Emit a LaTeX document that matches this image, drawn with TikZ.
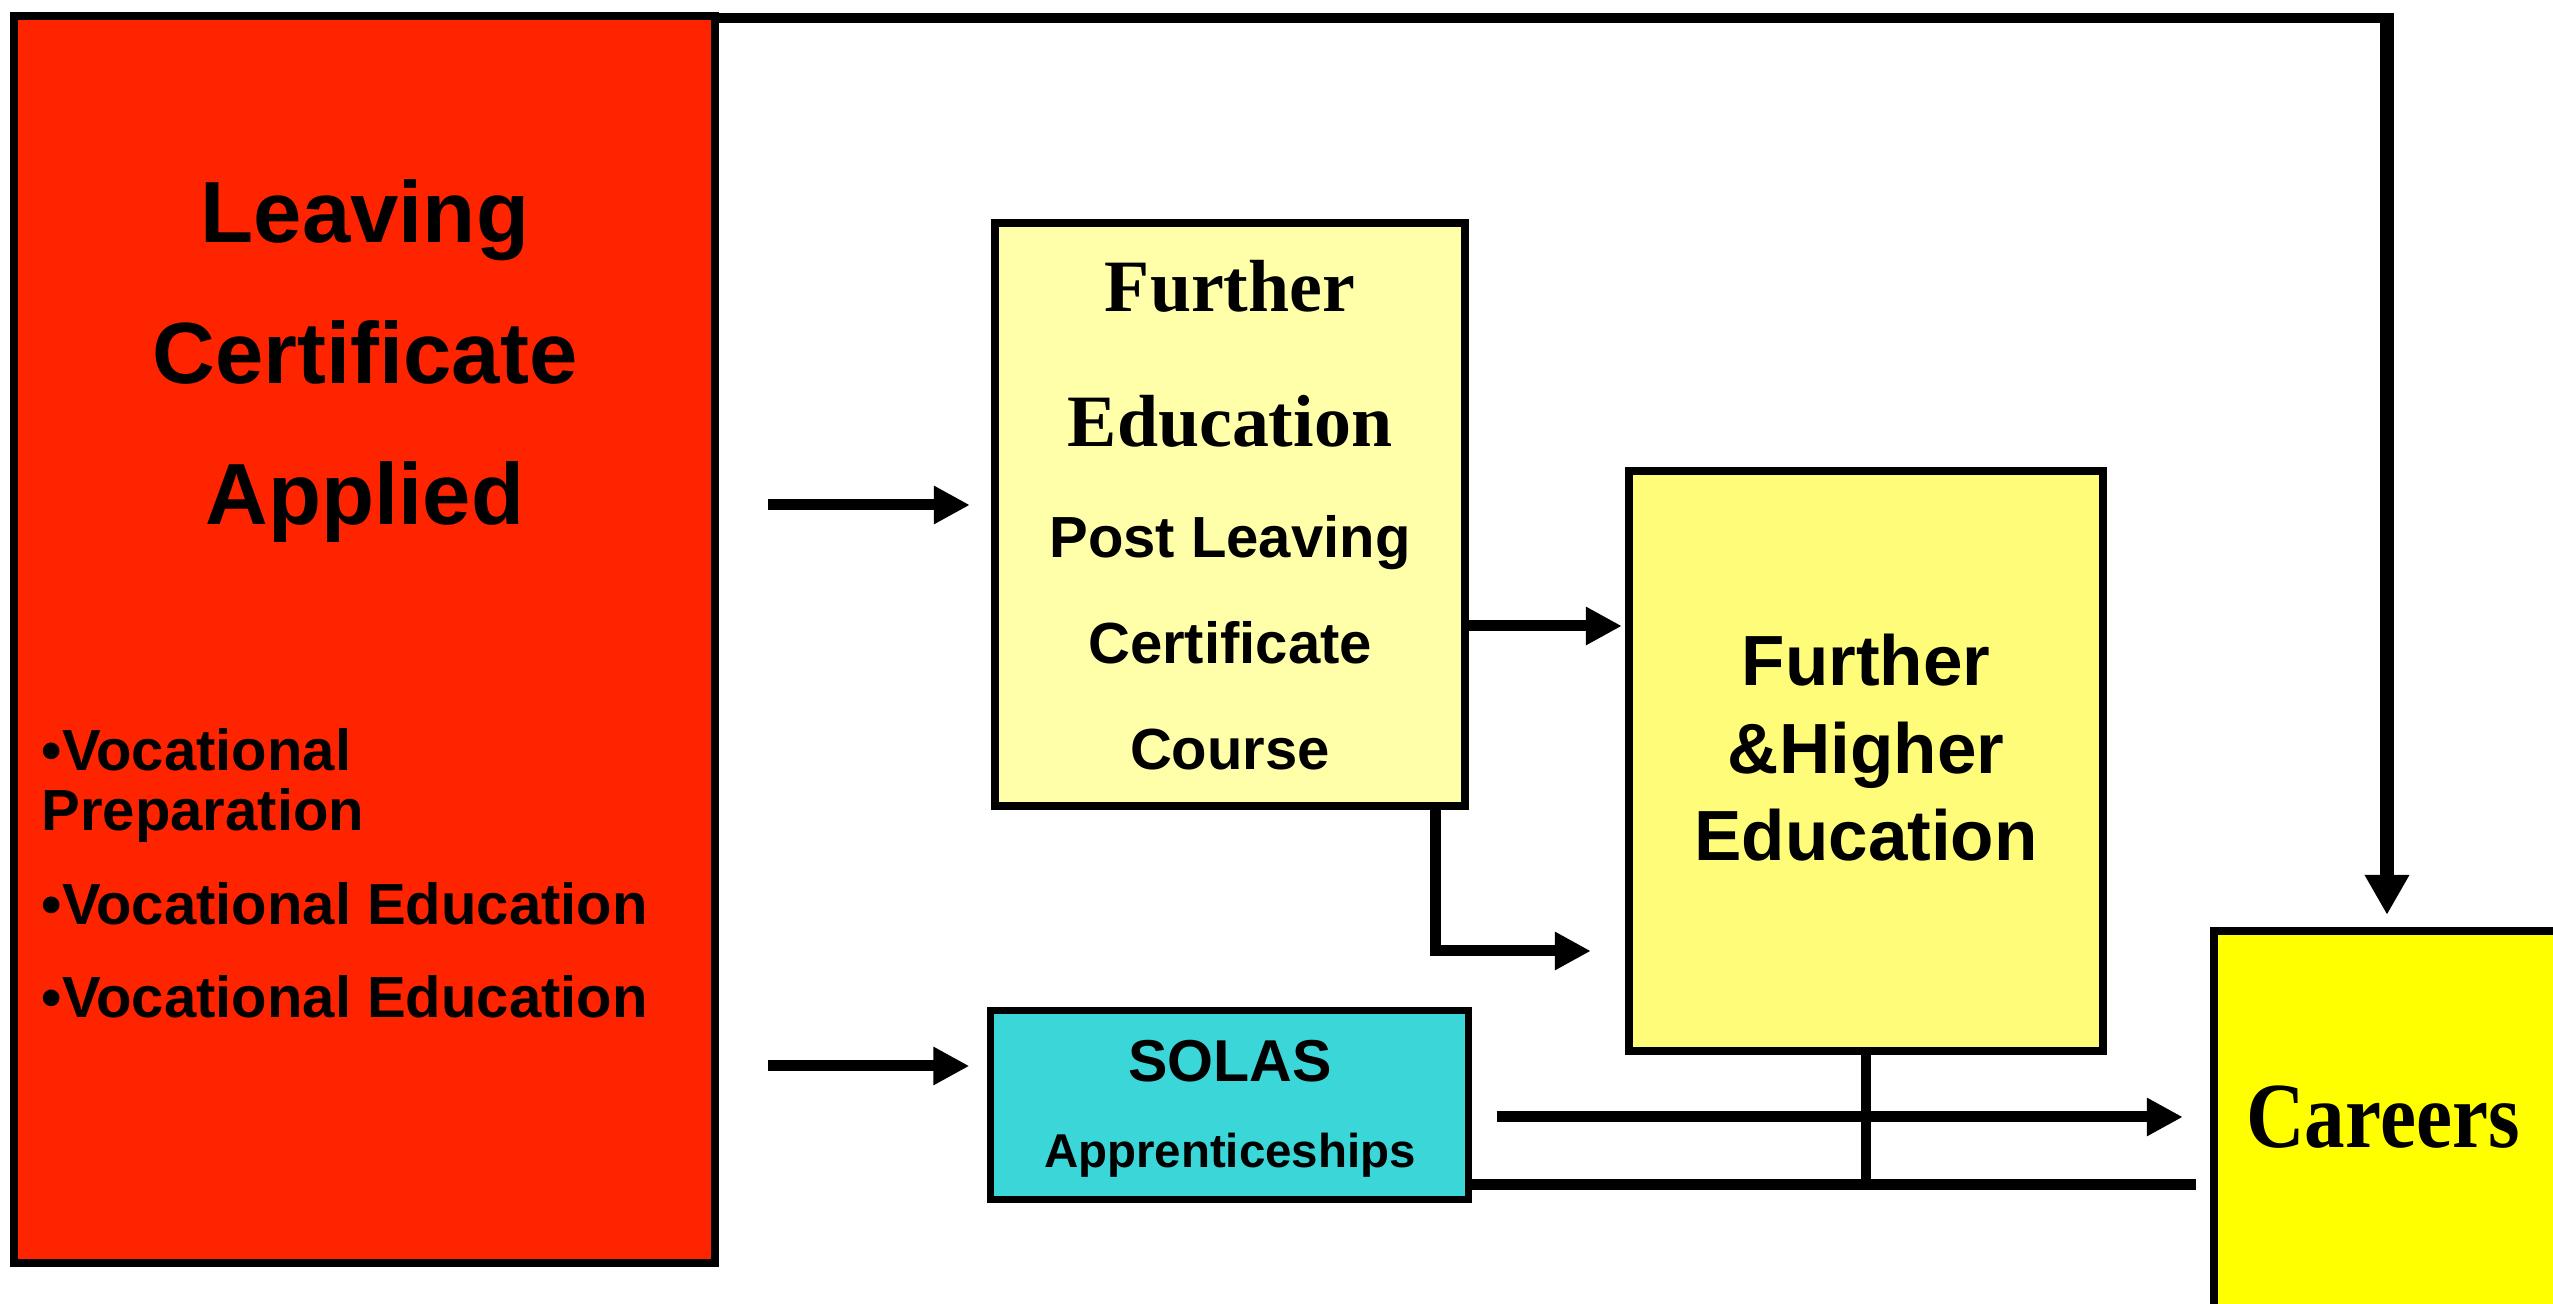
\documentclass[tikz,border=0pt]{standalone}
\usepackage{fontspec}
\setmainfont{Liberation Sans}
\newfontfamily\timesf{Liberation Serif}
\usetikzlibrary{arrows.meta}
\definecolor{lcared}{HTML}{FF2400}
\definecolor{feyellow}{HTML}{FFFFAA}
\definecolor{fheyellow}{HTML}{FFFC7A}
\definecolor{solascyan}{HTML}{3AD6D8}
\definecolor{caryellow}{HTML}{FFFF00}
\tikzset{
  box/.style={draw=black, line width=0.08cm, inner sep=0pt, rectangle},
  conn/.style={draw=black, line width=0.11cm},
  arr/.style={conn, -{Triangle[length=0.36cm, width=0.36cm]}},
  bigarr/.style={draw=black, line width=0.14cm, -{Triangle[length=0.40cm, width=0.42cm]}},
  txt/.style={anchor=base, align=center, inner sep=0pt, font=\bfseries},
}
\begin{document}
\begin{tikzpicture}[x=0.01cm, y=-0.01cm]
\useasboundingbox (0,0) rectangle (2553,1304);
\clip (0,0) rectangle (2553,1304);

% boxes
\node[box, fill=lcared, minimum width=7.01cm, minimum height=12.47cm] (lca) at (364.5,639.5) {};
\node[box, fill=feyellow, minimum width=4.70cm, minimum height=5.83cm] (fe) at (1230,514.5) {};
\node[box, fill=fheyellow, minimum width=4.74cm, minimum height=5.80cm] (fhe) at (1866,761) {};
\node[box, fill=solascyan, line width=0.07cm, minimum width=4.77cm, minimum height=1.88cm] (solas) at (1229.5,1105) {};
\node[box, fill=caryellow, minimum width=4.86cm, minimum height=4.69cm] (car) at (2457,1165.5) {};

% texts (anchor = baseline of the last line)
\node[txt, font=\fontsize{24.7}{40.1}\selectfont\bfseries] (lcaT) at (365,525) {Leaving\\Certificate\\Applied};
\node[txt, anchor=base west, align=left, font=\fontsize{16.5}{17.1}\selectfont\bfseries] (bulA) at (41,831) {•Vocational\\Preparation};
\node[txt, anchor=base west, font=\fontsize{16.5}{17.1}\selectfont\bfseries] (bulB) at (41,925) {•Vocational Education};
\node[txt, anchor=base west, font=\fontsize{16.5}{17.1}\selectfont\bfseries] (bulC) at (41,1018) {•Vocational Education};

\node[txt, font=\timesf\fontsize{21}{38.4}\selectfont\bfseries] (feT) at (1230,447) {Further\\Education};
\node[txt, font=\fontsize{16.5}{30.2}\selectfont\bfseries] (feS) at (1230,770) {Post Leaving\\Certificate\\Course};

\node[txt, font=\fontsize{20.2}{24.9}\selectfont\bfseries] (fheT) at (1866,861) {Further\\\&Higher\\Education};

\node[txt, font=\fontsize{16.8}{20}\selectfont\bfseries] (solasT) at (1230,1082) {SOLAS};
\node[txt, font=\fontsize{13.5}{16}\selectfont\bfseries] (solasS) at (1230,1168) {Apprenticeships};

\node[txt, font=\timesf\fontsize{26.5}{30}\selectfont\bfseries, xscale=0.87] (carT) at (2383,1148) {Careers};

% helper coordinates
\coordinate (r1) at (0,505);
\coordinate (r2) at (0,626);
\coordinate (r3) at (0,1066);
\coordinate (r4) at (0,1117);
\coordinate (r5) at (0,1185);
\coordinate (rtop) at (0,18);
\coordinate (elbowY) at (0,951);
\coordinate (colX) at (1435,0);
\coordinate (topX) at (2387,0);

% connectors
\draw[arr, shorten <=0.49cm, shorten >=0.21cm] (lca.east |- r1) -- (fe.west |- r1);
\draw[arr, shorten >=0.03cm] (fe.east |- r2) -- (fhe.west |- r2);
\draw[arr, shorten >=0.34cm] (fe.south -| colX) -- (colX |- elbowY) -- (fhe.west |- elbowY);
\draw[arr, shorten <=0.49cm, shorten >=0.18cm] (lca.east |- r3) -- (solas.west |- r3);
\draw[arr, shorten <=0.25cm, shorten >=0.27cm] (solas.east |- r4) -- (car.west |- r4);
\draw[conn, shorten >=0.14cm] (solas.east |- r5) -- (car.west |- r5);
\draw[conn, line width=0.10cm] (fhe.south) -- (fhe.south |- r5);
\draw[conn, line width=0.10cm, shorten >=-0.07cm] (lca.north east |- rtop) -- (topX |- rtop);
\draw[bigarr, shorten <=-0.05cm, shorten >=0.12cm] (topX |- rtop) -- (car.north -| topX);
\end{tikzpicture}
\end{document}
